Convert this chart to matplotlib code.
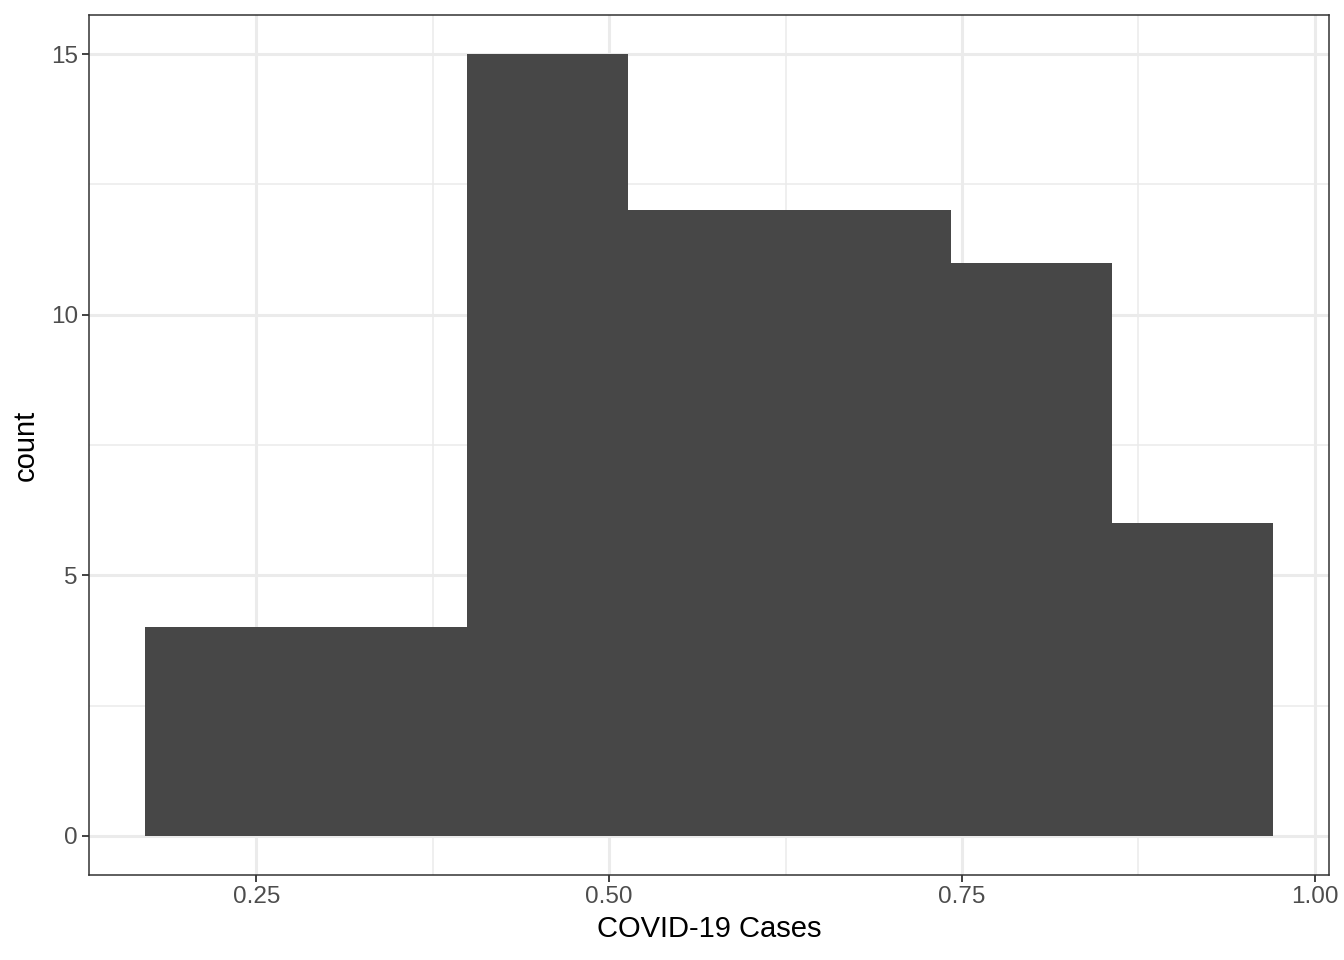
import numpy as np
import matplotlib.pyplot as plt

plt.rcParams['font.family'] = ['Liberation Sans', 'DejaVu Sans']

# histogram bins
bin_edges = [0.1714, 0.2855, 0.3996, 0.5137, 0.6278, 0.7419, 0.8560, 0.9701]
counts = [4, 4, 15, 12, 12, 11, 6]

x_ticks = [0.25, 0.50, 0.75, 1.00]
x_labels = ['0.25', '0.50', '0.75', '1.00']
y_ticks = [0, 5, 10, 15]

fig = plt.figure(figsize=(13.44, 9.6), dpi=100)
ax = fig.add_axes([89 / 1344, 1 - 875 / 960, (1329 - 89) / 1344, (875 - 15) / 960])

widths = np.diff(bin_edges)
ax.bar(bin_edges[:-1], counts, width=widths, align='edge', color='#474747',
       linewidth=0, zorder=3)

ax.set_xlim(0.1314, 1.0101)
ax.set_ylim(-0.75, 15.75)

ax.set_xticks(x_ticks)
ax.set_xticklabels(x_labels)
ax.set_yticks(y_ticks)
ax.set_xticks([0.375, 0.625, 0.875], minor=True)
ax.set_yticks([2.5, 7.5, 12.5], minor=True)

ax.grid(which='major', color='#EBEBEB', linewidth=2.2, zorder=0)
ax.grid(which='minor', color='#EBEBEB', linewidth=1.1, zorder=0)
ax.set_axisbelow(True)

for s in ax.spines.values():
    s.set_color('#333333')
    s.set_linewidth(1.1)

ax.tick_params(which='major', length=5, width=1.3, color='#333333',
               labelsize=17.5, labelcolor='#4D4D4D', pad=3)
ax.tick_params(which='minor', length=0)

ax.set_xlabel('COVID-19 Cases', fontsize=21, color='black', labelpad=5)
ax.set_ylabel('count', fontsize=21, color='black', labelpad=8)

fig.savefig('out.png', dpi=100)
